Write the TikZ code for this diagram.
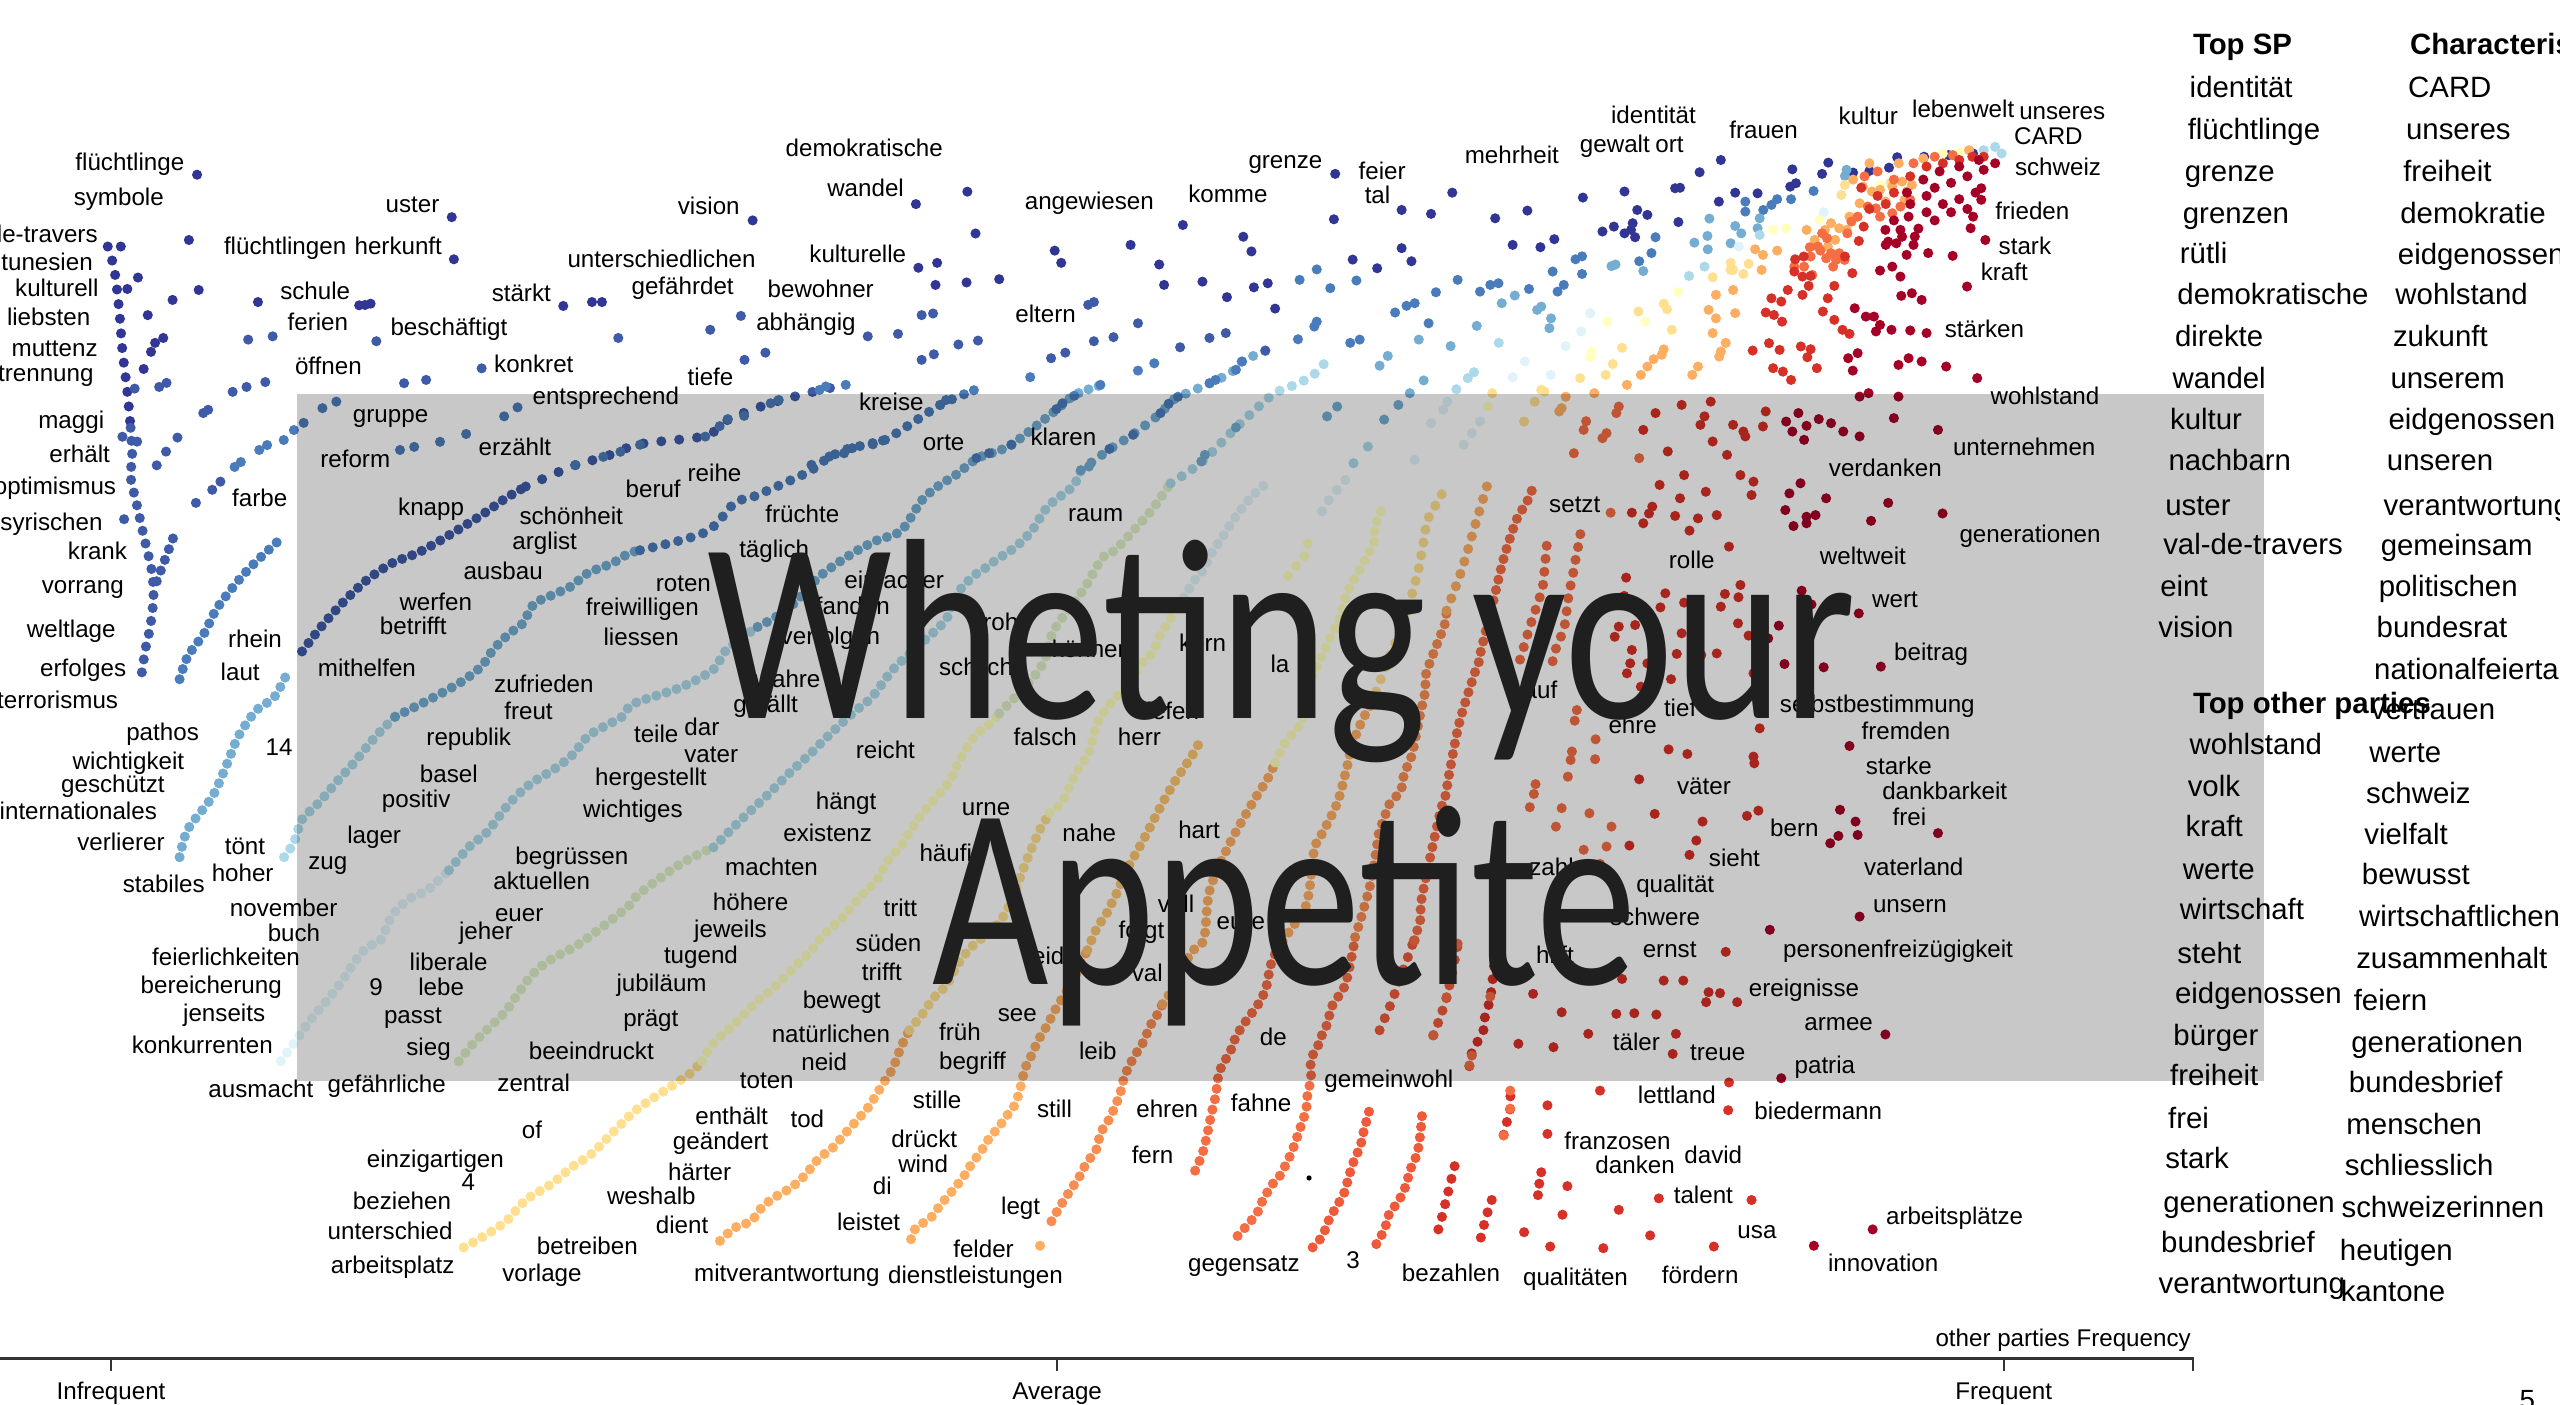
\documentclass[tikz,border=0pt]{standalone}
\usepackage{fontspec}
\setmainfont{Liberation Sans}
\newfontfamily\titlefont{Carlito}[FakeStretch=0.78]
\newfontfamily\titlefontw{Carlito}[FakeStretch=0.805]
\definecolor{cA}{HTML}{313695}
\definecolor{cB}{HTML}{3F5BA8}
\definecolor{cC}{HTML}{4A7CBB}
\definecolor{cD}{HTML}{74ADD1}
\definecolor{cE}{HTML}{ABD9E9}
\definecolor{cF}{HTML}{E0F3F8}
\definecolor{cG}{HTML}{FFFFBF}
\definecolor{cH}{HTML}{FEE090}
\definecolor{cI}{HTML}{FDAE61}
\definecolor{cJ}{HTML}{F46D43}
\definecolor{cK}{HTML}{D73027}
\definecolor{cL}{HTML}{A50026}
\definecolor{cPG}{HTML}{DDEFC8}
\definecolor{cOY}{HTML}{FCC46E}
\definecolor{cOR}{HTML}{F88D52}
\definecolor{cRO}{HTML}{EE5A3A}
\definecolor{axisgray}{HTML}{333333}
\newcommand\dotgrp[2]{\foreach \px/\py in {#2}{\fill[#1] (\px,\py) circle (3.1);}}
\tikzset{
  band/.style={line width=6.2pt, line cap=round, dash pattern=on 0pt off #1},
  band/.default=6.5pt,
  word/.style={anchor=mid west, inner sep=0pt, yshift=-3pt, font=\fontsize{14.8}{16}\selectfont},
  wordr/.style={anchor=mid east, inner sep=0pt, yshift=-3pt, font=\fontsize{14.8}{16}\selectfont},
  leg/.style={anchor=mid west, inner sep=0pt, yshift=-4.5pt, font=\fontsize{18}{20}\selectfont},
  legh/.style={anchor=mid west, inner sep=0pt, yshift=-4pt, font=\fontsize{18}{20}\selectfont\bfseries},
  axlab/.style={anchor=mid, inner sep=0pt, yshift=-3.5pt, font=\fontsize{14.8}{16}\selectfont},
}
\begin{document}
\begin{tikzpicture}[x=1pt,y=-1pt]
\useasboundingbox (0,0) rectangle (1568,860);
\fill[white] (0,0) rectangle (1568,860);
\clip (0,0) rectangle (1568,860);

% ---------- bands of dots ----------
\draw[band=9pt,cA] plot[smooth] coordinates {(66,151) (70,165) (73,190) (75,215) (78,240) (80,262)};
\draw[band=8pt,cB] plot[smooth] coordinates {(80,262) (81,280) (80,292) (84,310) (88,328) (93,350) (94,366) (92,384) (89,398) (86,418)};
\draw[band=7pt,cB] plot coordinates {(96,356) (107,327)};
\draw[band,cC] plot[smooth] coordinates {(110,416) (115,402) (125,388) (132,374) (140,363) (150,351) (160,341) (173,329)};
\draw[band,cD] plot[smooth] coordinates {(110,525) (115,508) (130,488) (139,468) (146,451) (157,435) (168,427) (177,410)};
\draw[band,cB] plot[smooth] coordinates {(185,399) (195,386) (200,380) (212,367) (225,355) (240,345) (255,339) (268,332) (291,318) (300,312) (310,305) (322,298)};
\draw[band=11pt,cB] plot[smooth] coordinates {(322,298) (352,285) (370,280) (392,272) (432,267) (446,257) (472,247) (502,239) (518,236)};
% P6
\draw[band,cE] plot[smooth] coordinates {(174,525) (180,516) (185,502) (195,492) (207,478) (217,467) (225,457) (232,449) (242,439)};
\draw[band,cD] plot[smooth] coordinates {(242,439) (262,429) (282,418) (295,408) (302,398) (312,388) (320,382) (327,370) (337,365) (350,359) (360,351) (375,345) (385,339) (392,337)};
\draw[band=8pt,cC] plot[smooth] coordinates {(392,337) (432,326) (450,308) (462,304) (489,292) (497,288) (508,280) (522,274) (541,270) (576,248) (597,239)};
% P7
\draw[band,cF] plot[smooth] coordinates {(172,650) (180,639) (190,625) (200,613) (208,603) (218,588) (225,580) (233,576) (240,561) (250,551) (262,545) (275,533)};
\draw[band,cE] plot[smooth] coordinates {(275,533) (288,518) (298,510) (312,492) (325,480) (338,472) (350,463) (360,451) (370,445) (381,439) (388,431) (417,421) (437,410) (445,398) (464,384)};
\draw[band,cD] plot[smooth] coordinates {(464,384) (475,378) (487,369) (502,353) (522,339) (537,331) (552,325) (565,306) (577,296) (584,292) (598,281) (606,278) (620,272) (647,251) (658,242) (674,236)};
% P8
\draw[band,cPG] plot[smooth] coordinates {(281,650) (290,639) (300,629) (310,619) (325,598) (337,588) (355,578) (375,563) (385,555) (392,547) (417,529) (437,519)};
\draw[band,cE] plot[smooth] coordinates {(437,519) (454,502) (469,488) (484,473) (497,461) (507,451) (522,437) (534,427) (547,410) (562,396) (579,380) (586,364) (596,353) (605,347) (610,343) (622,335) (632,325) (642,310) (657,298) (662,288)};
\draw[band=8pt,cD] plot[smooth] coordinates {(662,288) (680,275) (694,266) (711,253) (716,247) (722,243) (745,233) (757,226) (761,221) (775,215)};
% P9
\draw[band,cH] plot[smooth] coordinates {(284,764) (295,758) (310,748) (322,735) (338,725) (350,715) (362,707) (375,694) (385,684) (392,678) (407,668) (422,658) (430,650)};
\draw[band,cG] plot[smooth] coordinates {(430,650) (437,639) (450,627) (464,613) (474,605) (487,592) (497,582) (504,573) (517,561) (527,549) (537,539) (544,527) (552,518) (562,502) (572,490) (582,478) (587,467) (597,451) (607,443) (612,437)};
\draw[band,cPG] plot[smooth] coordinates {(612,437) (632,416) (640,404) (643,392) (648,382) (661,365) (665,359) (675,342) (680,339) (685,335) (696,323) (705,313) (710,306) (717,296)};
\draw[band=8pt,cE] plot[smooth] coordinates {(717,296) (736,283) (757,262) (779,242) (790,237) (804,230) (815,218)};
% P10
\draw[band,cI] plot[smooth] coordinates {(441,760) (450,752) (460,748) (467,739) (475,733) (482,729) (490,723) (497,715) (502,709) (510,703) (517,695) (525,686) (532,678) (537,670) (542,662) (547,654) (552,641) (557,631)};
\draw[band,cH] plot[smooth] coordinates {(557,631) (565,621) (572,611) (580,603) (587,590) (595,580) (607,570) (612,565) (617,557) (622,545) (628,529) (633,517) (637,508) (643,498)};
\draw[band,cG] plot[smooth] coordinates {(643,498) (650,492) (657,478) (661,470) (667,461) (672,443) (680,431) (692,418) (701,404) (706,400) (710,390) (715,382) (725,366)};
\draw[band,cF] plot[smooth] coordinates {(725,366) (732,355) (737,349) (742,339) (750,327) (755,319) (765,306) (772,299) (778,295)};
% P11
\draw[band,cI] plot[smooth] coordinates {(558,759) (561,752) (570,746) (576,738) (582,731) (590,721) (595,713) (601,705) (606,697) (612,690) (617,683) (622,676) (625,666) (628,654) (632,646) (636,637) (642,627) (646,619) (657,601) (662,590) (666,582)};
\draw[band,cOY] plot[smooth] coordinates {(666,582) (672,568) (677,561) (682,551) (685,545) (690,533) (700,515) (712,492) (720,478) (724,472) (730,463) (734,456)};
% P12
\draw[band,cOR] plot[smooth] coordinates {(644,748) (648,741) (653,733) (657,727) (661,721) (664,715) (668,709) (672,703) (674,694) (678,688) (682,680) (686,670) (688,662) (691,654) (696,645) (701,637) (704,629) (708,623) (712,615)};
\draw[band,cI] plot[smooth] coordinates {(712,615) (722,600) (729,584) (736,578) (738,572) (741,545) (753,517) (767,492) (772,484) (777,476) (781,467)};
\draw[band,cG] plot[smooth] coordinates {(781,467) (787,455) (794,447) (798,440) (800,431) (804,414) (819,382) (822,374) (825,363) (834,347) (837,341) (842,331) (842,323) (847,310)};
% P13
\draw[band,cJ] plot[smooth] coordinates {(732,717) (736,708) (738,701) (740,692) (742,682) (744,674) (745,668) (747,656) (754,643) (757,635) (762,627) (772,613) (776,603) (778,592) (782,582)};
\draw[band,cI] plot[smooth] coordinates {(782,582) (790,570) (799,557) (802,545) (805,520) (809,512) (819,492) (825,470) (828,457) (834,442) (840,431)};
\draw[band=8pt,cH] plot[smooth] coordinates {(840,431) (850,405) (860,380) (869,348) (874,320) (879,310) (884,301)};
% P14
\draw[band,cJ] plot[smooth] coordinates {(758,757) (766,748) (770,743) (774,734) (781,723) (784,720) (791,706) (796,692) (798,686) (800,680) (801,669) (803,661) (803,649) (808,639) (810,633) (813,627) (816,616) (824,603) (829,580) (830,574)};
\draw[band,cOR] plot[smooth] coordinates {(830,574) (834,561) (839,543) (842,527) (845,508) (848,502) (850,494) (858,484) (860,474) (864,465) (866,457) (870,437) (873,423) (873,415) (875,408) (880,395) (885,382) (886,374)};
\draw[band=8pt,cI] plot[smooth] coordinates {(886,374) (895,350) (904,320) (911,297)};
% P15
\draw[band,cRO] plot[smooth] coordinates {(804,764) (810,757) (814,747) (821,735) (824,729) (826,721) (830,709) (833,703) (835,694) (839,679)};
\draw[band=8pt,cRO] plot[smooth] coordinates {(845,631) (851,617) (853,612) (866,576)};
\draw[band,cJ] plot[smooth] coordinates {(866,576) (870,563) (871,549) (882,498) (885,489) (888,472) (894,442) (904,410) (906,405) (907,399) (914,371) (921,342) (929,318) (935,308) (940,296)};
% P16 and others
\draw[band,cRO] plot[smooth] coordinates {(843,762) (848,753) (851,743) (855,738) (860,729) (865,713) (868,707) (870,694) (871,683)};
\draw[band=8pt,cRO] plot[smooth] coordinates {(878,634) (886,611) (893,578)};
\draw[band=8pt,cJ] plot[smooth] coordinates {(931,404) (937,384) (940,375) (943,366) (945,359) (948,327)};
\draw[band=8pt,cJ] plot[smooth] coordinates {(951,405) (954,394) (958,385) (961,363) (963,355) (964,348) (966,338) (968,327)};
\draw[band=8pt,cK] plot[smooth] coordinates {(881,753) (883,746) (891,714)};
\draw[band=8pt,cK] plot[smooth] coordinates {(900,653) (901,646) (909,630) (909,625) (913,610) (916,582)};
\draw[band=8pt,cK] plot[smooth] coordinates {(907,758) (909,750) (910,746) (914,734)};
\draw[band=8pt,cK] plot[smooth] coordinates {(921,695) (923,687) (925,679) (925,668)};
\draw[band=8pt,cF] plot[smooth] coordinates {(824,294) (818,301) (814,306) (808,316)};
\draw[band=8pt,cG] plot[smooth] coordinates {(801,333) (798,343) (791,349) (786,359)};

% ---------- scattered dots ----------
\dotgrp{cA}{120.7/107,115.7/147,121.7/177.6,105.7/183.7,90.5/193,84.5/170,78/177,100/207,95/210,92.5/215.5,88/226,276.7/133,278/158.8,158/185,220/187,223.6/186.8,227/186,345/187.4,362.6/185,368.7/185,74/151,592.5/117.4,561/125,597.5/143,461/135,562.5/164,574/161,573/174.5,592/173,612/171,646/153.5,650/161,692.5/150,724.5/137.8,761.5/145,766.5/154,710/162,713/174.5,736.5/172.5,768/176,776.5/173.5,751.5/182,781/189,817.8/106.5,817/134.3,858.5/128.6,876.5/131,889.5/118,915.8/133.7,935.5/129,969.5/121,995/117.3,1026/115.3,1029/115,1041/105.5,1054/98,1097.8/103.7,1119.8/99.6,1116/106.5,1135/105.7,1145/104.7,1157/102.7,1162/96.3,1062.8/118,1076.5/118.4,1052.8/123.5,1096.5/114.3,1100/112.2,1028/136,1009/131.6,1002.8/128.6,1000/136.7,999/140.8,995/142.9,1001.5/145.3,988.5/138.8,981.5/141.8,952/146.5,943.5/151.4,926.5/150,858.5/152,828.5/159,843.5/164.3,864.5/160,1178.5/96,1193.5/95,1208.5/94}
\dotgrp{cB}{102/234.5,97.5/237,82.5/238,84/270.5,75/267.5,108.7/268,101.7/276.6,96/285,124.5/253,127.5/251,142.5/240,151/237,162.5/234,152/208,167/206,230.5/209,247.5/234.7,261/232.7,295/225.6,378.7/207,120/308,130/300,135/295,76/318,666.5/186.7,670/185,697/198,564.5/193,571.5/192,453.8/193.5,435/202,531.5/206,550/204.5,587/211,599/208.6,682/206.5,670/209,740.8/207,750.8/204,722.8/212.7,652.5/216,643.8/219.4,572/217,564.5/220.4,468.8/216,456/220.4,775/214.7}
\dotgrp{cC}{760.8/221.4,757/226.5,707/222.5,697/227,674/235.7,631/231,596.5/239,518/235.7,505.8/236.7,502/238.8,744.5/232.7,740.8/234.7,308.8/255,317/249.5,197.5/250,206/246,186/259,180/263.4,173.8/269.5,163.6/272.6,158.8/275.6,147.5/283,143.7/286,245/275.6,253.7/273.7,269.5/270.6,285.5/265.8,369.5/279.8,380/276.7,352.5/284.8,579.5/245,575.8/248,477/245,472/247,455.8/254.7,445.8/256.7,440.8/261,432/267.4,392/272.4,658/242.4,650.8/247,647/250.6,721.5/243,715.8/247.3,710.8/253,694/266.3,679.5/275,619.5/272.4,605.8/277.6,598/280.6,540.8/269.8,534.5/271.4,522/274.5,517/277.6,508/279.6,497/284.7,1110.8/117,1097/122,1069/123.5,1069/129.6,1080/128.6,1085/125.5,1088.5/122,1014/145.3,1011.5/155,1004/160,969/157,965/158.8,969/167.8,951/166.3,957.8/174.5,954/178.6,936.5/177,830.8/171.8,814.8/176.5,806.5/165,796/171.4,892.8/171.4,879.5/179,917.8/173.5,912.8/174.5,906.5/178.6,866.5/185.7,861.5/187.3,854.5/191.4,875/198,827/210,832.8/208,806.5/197,805/200,795/207.8}
\dotgrp{cD}{757/261.8,738/278.6,735.8/282.6,667/285.7,1077.8/133.7,1076.5/139.8,1062.8/138.4,1066.5/142.9,1047/133.9,1045.8/144.5,1037.8/148.6,1046/152.7,1060/149,1006.5/166,989.5/162,987/163,1130/107.8,1131/104,950/195,949/201,944/187.8,941.5/189.8,927.8/181,919.8/185.7,904.5/199.6,888.5/212,869/208,872/233,863.5/240.8,850/218,845/224,819/249,812.8/255,856.5/248,847.8/257}
\dotgrp{cE}{918/210,902.8/228,899/231.6,892/238.4,1077.8/143.9,1215/92,1222/90,1226/94,837.8/273.5,829/283.7,1034.5/169,1044/163.3}
\dotgrp{cF}{1065/151,1117/130,959/212,934/221.4,926.5/231,949.8/229.6,974/191.8,968.5/203,906.5/258.2,901.5/265.3,896.5/272.4,876.5/259.2,866.5/281.6,886.5/246,884/251}
\dotgrp{cG}{1094/139.8,1086/140.8,1114.5/134.7,1151.5/113.3,1007.8/197,984.5/197,974.8/215.3,974/218.8,1027.8/179,911.5/249,1190/94,1200/93}
\dotgrp{cH}{1127.8/119.4,1130/113.3,1158/111.8,1060/165.3,1067.8/167.8,1071/161.6,1061.5/165.3,1060/161,1049/169.8,1003.5/190.8,987.8/223,983.5/229.6,993.5/213,967.8/231.6,946/239.8,944/238.8,933.5/258.2,914/240.8,940/246,1024/202,1021/189.4,1019/186}
\dotgrp{cI}{1139/124.5,1132.8/132.7,1131/140.8,1119.5/151,1141/114.3,1146.5/117.3,1151.5/116.3,1155/123.5,1159/114.3,1165/111.2,1167.8/117.3,1171/113.3,1166.5/122.4,1111.5/146.9,1106.5/140.8,1117.8/140.8,1121.5/136.7,1126.5/139.8,1124/146.9,1088.5/153.5,1079.8/156.1,1079/165.3,1075/152.7,1061.5/177.6,1062.8/191.8,1051/180.6,1049/204,1057/210,1054/215.3,1053/218.4,1040/224.5,1036.5/229.6,1046.5/189.8,1051/195,1017.8/217.3,1012.8/220,1009/224.5,1005/229.6,1019/214,996.5/235.7,976.5/240.8,959/243,956.5/250,955/252,1135/110,1145/100,1163/100,1178/97,1206/92,637/763}
\dotgrp{cJ}{1151.5/132.7,1159/130.6,1164/126.5,1170/122.4,1144/126.5,1149/127.6,1137.8/132.7,1134/135.7,1131.5/142.9,1118.5/158.2,1122.8/163.3,1115/153.5,1109/157.1,1119/145.9,1116/142.9,1108.5/151.4,1113.5/151,1124.5/159.2,1126.5/155.1,1121.5/155.1,1129.8/159.2,1105/163.3,1110/168.4,1099/163.3,1142/108,1150/105,1160/110,1172/100,1185/96,1196/95,971.5/258,970/263.3,984/265.3,981.5/268.4,991.5/249,990/253,964/277.6,1004/280.6,986.5/314,965.8/434.9,964.5/441.4,977.3/452.8,962.8/460.3,977/465,962/465.5,960.3/475.7,940.5/480.3,939.5/486.3,937/494.4,956.5/495,973.5/498.1,987/506.3,984/518.5,970/520.5,953/506.3,980/529.1,912.8/610.4,886/610.8,877.8/634.2,892.8/578,916.5/582.2,866.5/576,925/668,925/679,921/695.5,901.5/646.5,900/652.6}
\dotgrp{cK}{1073.5/214.7,1083.5/210.2,1090/214.3,1103/212.2,1109/213.9,1107/218.8,1112.8/225.5,1086/225.5,1092/227.6,1097/232.7,1086.5/192.9,1091.5/197,1081.5/191.4,1085/182.7,1091/184.7,1095/177.6,1099/166.3,1104/169.4,1109/169,1104/180.6,1107.8/175.1,1099.5/158.8,1104.8/157.1,1123.5/175.1,1119.5/182.7,1116.5/190.8,1123.5/195.9,1128.5/202,1132.8/204.5,1130/157.1,1134.5/167.3,1138.5/147.6,1141.5/138.8,1150/120,1160/118,1170/108,1180/102,1190/100,1200/98,1208/96,1215/96,1145/128,1155/125,1140/115,1006.5/263.3,1014/253,1030/248,1047.8/246,1044/255,1041.5/260.2,1061.5/260.2,1067.8/264.3,1069/267.3,1049/270.4,1021.5/276.5,1057.8/278.6,1081.5/252,1079.8/261.2,1010/314.5,999.5/314,996/353.8,994.8/365,1020/363.4,1031.5/369.1,1017/372,1001.5/382.8,991.5/383.8,989/390,999.5/398.1,998.5/406.3,996.5/412.4,1005/420.6,998/517.9,1013.5/498.5,1004/477.3,1022/459,1033.5/461.8,1066/291,1074/295,1072.8/303.2,1051.5/315.5,1040/317.5,1044.8/301.2,1034.8/325,1026/316,1029/305.2,1031.5/291,1016.5/297,1012/310.3,1006.5/320.5,1059/334.8,1066/358.3,1064.8/365.8,1056.5/363.8,1054/371.6,1064.5/381.8,1071/389.3,1051.5/400.2,1030/387.9,1027/400.5,1042/401.2,1023.5/416,1074/412.4,1077.8/446.1,1074/463.4,1074.5/467.5,1070/499.7,1077/496.5,1042.8/503.2,1039/514.8,1034.8/523.6,1009/406.3,1057/583,1046.5/607.7,1053.5/608.3,1045/613.8,1064/613.8,1031/600.6,1019/600.6,993.5/599.6,1014.5/621.4,1001/620.6,990/621,1026.5/633.2,1024.5/645.5,1059/663,1058.5/680,1072.8/735,1049.7/763.5,1016/734,1010.7/756.7,991.5/741,982/764.5,980/668,944/718,942.8/725,942/732,933.5/754.7,949.5/763.5,957/744,960/726.5,947.8/677,947.8/694.5,951.5/641.4,930/639.3,939/608.7,956.5/620,972.8/633.2}
\dotgrp{cL}{1132/219.4,1137.8/216.3,1134.8/227,1136/188.8,1142.8/193.9,1147.8/193.9,1151.5/199,1158.5/202,1149/203,1170/202.4,1164.5/181.2,1171/179.6,1151.5/165.7,1159/163.3,1164/169.4,1167.8/156.1,1161.5/149,1156.5/148,1154.8/140.8,1164/140.8,1169/132.7,1172.8/144.9,1139/242.9,1144.5/240.8,1162.8/242.9,1160/256.1,1162.8/223.5,1169/219.4,1185/115,1195/112,1205/108,1215/104,1222/100,1190/125,1200/122,1210/118,1180/130,1170/125,1160/135,1175/140,1185/135,1195/130,1205/128,1178/110,1168/118,1180/120,1188/105,1200/102,1212/98,1165/145,1155/150,1172/150,1213.5/115.3,1213.5/122.4,1208.5/132.7,1207/139.8,1216/147,1196/156.7,1181/155,1204.8/175.5,1177/183.7,1180/204,1177/221.4,1192/224.5,1211/231.6,1187/263.3,1094/258.2,1101.5/253,1106.5/260.8,1114/256.7,1121.5/259.2,1129/264.3,1139/267.3,1105/269.4,1097.8/264.3,1089.5/383.2,1083/391,1103.5/361.8,1109.5/370.2,1138.5/375.7,1102.8/296,1096/302.2,1093.5/312.4,1098.5/322.2,1106.5/316.5,1112/315.5,1106.5/320.5,1118.5/305.2,1146/319,1156.5/308,1093/406.7,1117/408.7,1152/408.3,1132.8/456.9,1127/496,1136.5/503.2,1137.8/511.4,1126/512,1121/516.5,1139/561.4,1084/569.5,1189.8/314.5,1187/510.3,1147/753,1111/763,1154.8/633.6,1091/660.4}
\fill[black] (801.8,721.5) circle (1.6);

% ---------- words ----------
\foreach \x/\y/\t [count=\i] in {
46/99/flüchtlinge, 45/120.5/symbole, 75/541/stabiles,
137/150/flüchtlingen, 217/150/herkunft, 236/124.5/uster, 171.5/178/schule, 176/197/ferien,
239/200/beschäftigt, 180.5/223.6/öffnen, 301/179/stärkt, 302.5/222.5/konkret, 216/253/gruppe,
196/280.6/reform, 293/273.6/erzählt, 326/242/entsprechend, 415/126/vision, 481/90/demokratische,
506.5/115/wandel, 495.6/155/kulturelle, 470/176.6/bewohner, 463/197/abhängig, 421/230.7/tiefe,
526/246/kreise, 621.7/192/eltern, 627.5/122.5/angewiesen, 727.6/118.4/komme, 764.5/97.6/grenze,
565/270.5/orte, 631/267.5/klaren, 832/104/feier, 835.7/119/tal, 897/94.3/mehrheit,
986.6/70/identität, 967.5/87.8/gewalt, 1013.7/87.8/ort, 1059/79.2/frauen, 1126/70.4/kultur,
1171/66.4/lebenwelt, 1236.6/67.4/unseres, 1233.5/82.7/CARD, 1234/102/schweiz, 1222/129/frieden,
1224/150/stark, 1213/166.4/kraft, 1191/201/stärken, 1219/242/wohlstand, 1196/273.6/unternehmen,
1120/286/verdanken, 1200/326.6/generationen, 1114.5/340/weltweit, 1146.5/366.5/wert,
1160/399/beitrag, 948.7/308.3/setzt, 1022/342.5/rolle,
142/304.6/farbe, 139.5/391/rhein, 135/411/laut, 162.5/457/14, 137.5/517.6/tönt, 129.5/534/hoher,
140.6/555.5/november, 163.8/571/buch, 188.7/526.7/zug, 212.5/511/lager, 233.7/488.8/positiv,
257/473.5/basel, 261/451/republik, 308.7/434.8/freut, 302.5/418.5/zufrieden, 194.5/409/mithelfen,
232.5/383/betrifft, 244.5/368.5/werfen, 283.7/349/ausbau, 313.7/330.7/arglist, 318/315.4/schönheit,
243.7/310/knapp, 315.5/524/begrüssen, 302/539/aktuellen, 303/558.5/euer, 281/570/jeher,
383/299/beruf, 421/289/reihe, 358.7/371.6/freiwilligen, 369.5/390/liessen, 401.5/356.9/roten,
468.6/314.4/früchte, 452.6/336/täglich, 517/355/einfacher, 499.5/370.6/fanden, 478/389/verfolgen,
462/415.5/wahre, 449/430.7/gefällt, 419/444.7/dar, 419/461.4/vater, 524/459/reicht, 499.5/490/hängt,
479.6/510/existenz, 444/530.4/machten, 436.5/552.3/höhere, 425/568.4/jeweils, 654/314/raum,
598/380.7/froh, 575/408/schlicht, 722/393.6/kern, 778/406/la, 698/434.8/tiefen,
620.7/451/falsch, 684.5/451/herr, 589/494/urne, 650.5/510/nahe, 721.5/508/hart, 563/522/häufig,
541/555.7/tritt, 709/553/voll, 745/563.5/eure, 685/569/folgt, 523.8/577/süden, 406.5/584.7/tugend,
527.7/595/trifft, 491.5/611.8/bewegt, 472.5/632.7/natürlichen, 490.6/650.3/neid, 453/661/toten,
575/631.5/früh, 575/649.7/begriff, 611/619.8/see, 632/585/eid, 693/595.5/val, 660.7/643.5/leib,
771.5/635/de, 559/673.5/stille, 635/678.6/still, 695.8/678.6/ehren, 753.7/675/fahne, 693/707/fern,
425.7/683.3/enthält, 484/684.7/tod, 412/698.2/geändert, 409/717.3/härter, 401.5/750/dient,
545.7/697/drückt, 550/712.4/wind, 534.5/726.2/di, 512.5/747.9/leistet, 613/738.5/legt,
583.7/764.4/felder, 425/779/mitverantwortung, 543.8/780.3/dienstleistungen, 727.5/773/gegensatz,
93/586/feierlichkeiten, 86/603/bereicherung, 112/620/jenseits, 80.5/639.4/konkurrenten,
127.5/666.4/ausmacht, 200.5/663.5/gefährliche, 304.5/662.9/zentral, 226/604.3/9, 256/604.3/lebe,
250.7/589/liberale, 235/621/passt, 248.7/641/sieg, 323.7/643.5/beeindruckt, 319.5/691.5/of,
224.5/709.3/einzigartigen, 282.5/723.5/4, 216/735.4/beziehen, 200.5/753.8/unterschied,
202.5/774.6/arbeitsplatz, 328.7/763/betreiben, 307.5/779.3/vorlage,
1019/433/tief, 985/443.5/ehre, 1090/430.7/selbstbestimmung, 1140/447/fremden, 1027/480.8/väter,
1142.7/469/starke, 1152.7/484.3/dankbarkeit, 1159/500/frei, 1084/507/bern, 1046.5/525/sieht,
1141.5/530.4/vaterland, 936.5/530.4/zahl, 1002/541/qualität, 986/561/schwere, 1147/553/unsern,
940.7/584.3/hilft, 1006/581/ernst, 1092/581/personenfreizügigkeit, 1071/605/ereignisse,
1105/625.4/armee, 987.7/637.6/täler, 1035/643.7/treue, 1099/651.7/patria, 811/660.3/gemeinwohl,
1003/670.5/lettland, 1074.4/680.3/biedermann, 958/698.2/franzosen, 977/713.3/danken,
1031.5/707/david, 1025/731.3/talent, 1064/752.7/usa, 858.5/779/bezahlen, 932.7/782/qualitäten,
1017.7/780.7/fördern, 1119.5/773/innovation, 1155/744.6/arbeitsplätze, 824.5/771/3}
  \node[word] (w\i) at (\x,\y) {\t};

\foreach \x/\y/\t [count=\i] in {
60/143/val-de-travers, 57/160/tunesien, 60.5/176/kulturell, 55.5/194/liebsten, 60/213/muttenz,
57.5/228/trennung, 64/257/maggi, 67.5/277.5/erhält, 71.3/297/optimismus, 63/319.5/syrischen,
78/337/krank, 76/358/vorrang, 71/384.8/weltlage, 77.5/409/erfolges, 72.5/428/terrorismus,
122/448/pathos, 113/465.6/wichtigkeit, 101/480/geschützt, 96.3/496/internationales, 101/515/verlierer,
463/158/unterschiedlichen, 449.6/175/gefährdet, 415.7/449/teile, 433/475.7/hergestellt,
418.3/495/wichtiges, 433/601.5/jubiläum, 415.7/622.8/prägt, 693/397/können, 426.3/732.3/weshalb,
954/422/auf}
  \node[wordr] (r\i) at (\x,\y) {\t};

% ---------- gray panel ----------
\fill[black, opacity=0.215] (182,241.5) rectangle (1386.5,662);

% ---------- legend ----------
\node[legh] (hSP) at (1343,27) {Top SP};
\node[legh] (hOP) at (1343,430.4) {Top other parties};
\node[legh] (hCH) at (1476,26.5) {Characteristic};
\foreach \x/\y/\t [count=\i] in {
1341/52.7/identität, 1339.8/78.6/flüchtlinge, 1338/104/grenze, 1336.8/129.6/grenzen, 1335/154/rütli,
1333.5/179.6/demokratische, 1332/205/direkte, 1330.5/230.7/wandel, 1329/256/kultur, 1328/281/nachbarn,
1326/308.3/uster, 1324.8/332.4/val-de-travers, 1323/358.3/eint, 1321.8/383.4/vision,
1341/454.8/wohlstand, 1339.8/480.8/volk, 1338.5/505.3/kraft, 1336.8/531.8/werte, 1335/556.3/wirtschaft,
1333.5/583.2/steht, 1332/607.7/eidgenossen, 1331/633.2/bürger, 1329/657.7/freiheit, 1327.8/683.8/frei,
1326/708.8/stark, 1324.8/735.3/generationen, 1323.5/759.8/bundesbrief, 1322/785.3/verantwortung,
1474.8/52.7/CARD, 1473.5/78.6/unseres, 1471.8/104/freiheit, 1470/129.6/demokratie,
1468.5/155/eidgenossenschaft, 1467/179.6/wohlstand, 1465.5/205/zukunft, 1464/230.7/unserem,
1462.8/256/eidgenossen, 1461.8/281/unseren, 1459.8/308.3/verantwortung, 1458/332.8/gemeinsam,
1456.8/358.3/politischen, 1455.5/383.4/bundesrat, 1454/409.3/nationalfeiertag, 1452/433.8/vertrauen,
1451/459.7/werte, 1449/484.9/schweiz, 1448/510.4/vielfalt, 1446.5/534.9/bewusst,
1444.8/560.4/wirtschaftlichen, 1443/585.9/zusammenhalt, 1441.5/611.8/feiern, 1440/637.7/generationen,
1438.5/662.2/bundesbrief, 1437/688/menschen, 1436/712.8/schliesslich, 1434/738.3/schweizerinnen,
1433/764.9/heutigen, 1433.5/789.9/kantone}
  \node[leg] (l\i) at (\x,\y) {\t};

% ---------- axis ----------
\coordinate (axL) at (0,832);
\coordinate (axR) at (1343,832);
\draw[axisgray, line width=1.4pt] (axL) -- (axR) -- ++(0,8);
\foreach \tx [count=\i] in {68,647.5,1227.3}
  \draw[axisgray, line width=1.4pt] (\tx,832) -- (\tx,840);
\node[axlab] (axI) at (68,851) {Infrequent};
\node[axlab] (axA) at (647.5,851) {Average};
\node[axlab] (axF) at (1227.3,851) {Frequent};
\node[anchor=mid east, inner sep=0pt, yshift=-4pt, font=\fontsize{14.8}{16}\selectfont] (axT) at (1342,818) {other parties Frequency};
\node[anchor=north west, inner sep=0pt, font=\fontsize{17}{18}\selectfont] (pg) at (1543,851.5) {5};

% ---------- title ----------
\node[anchor=base west, inner sep=0pt, text=black!88, font=\titlefontw\fontsize{158}{160}\selectfont] (title1) at (433,440) {Wheting your};
\node[anchor=base west, inner sep=0pt, text=black!88, font=\titlefont\fontsize{158}{160}\selectfont] (title2) at (571,602.7) {Appetite};
\end{tikzpicture}
\end{document}
